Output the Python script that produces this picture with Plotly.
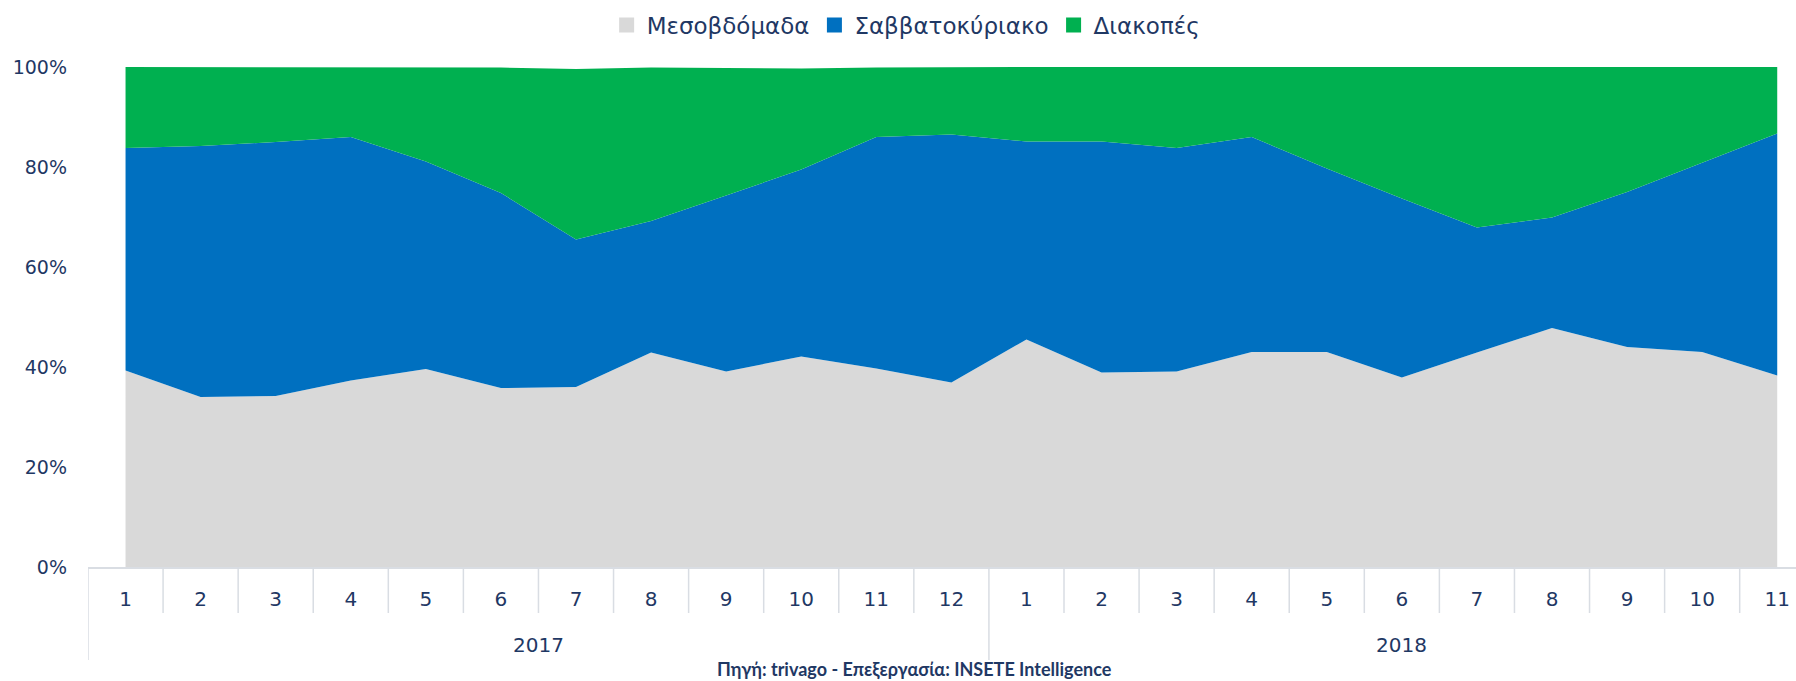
import plotly.graph_objects as go

# ---- data (percent shares) ----
months = ["1", "2", "3", "4", "5", "6", "7", "8", "9", "10", "11", "12",
          "1", "2", "3", "4", "5", "6", "7", "8", "9", "10", "11"]
years = ["2017"] * 12 + ["2018"] * 11
year_labels = ["2017", "2018"]

weekday = [39.3, 34.0, 34.2, 37.3, 39.6, 35.8, 36.0, 42.9, 39.1, 42.1, 39.7, 36.9,
           45.5, 38.9, 39.1, 43.0, 43.0, 37.9, 42.9, 47.8, 44.0, 43.0, 38.3]
weekend = [44.5, 50.2, 50.8, 48.7, 41.5, 39.0, 29.5, 26.3, 35.2, 37.4, 46.3, 49.6,
           39.6, 46.2, 44.7, 43.0, 36.7, 35.8, 25.0, 22.1, 31.0, 37.9, 48.4]
holidays = [16.2, 15.8, 15.0, 14.0, 18.9, 25.1, 34.1, 30.7, 25.5, 20.2, 13.9, 13.5,
            14.9, 14.9, 16.2, 14.0, 20.3, 26.3, 32.1, 30.1, 25.0, 19.1, 13.3]

series_names = ["Μεσοβδόμαδα", "Σαββατοκύριακο", "Διακοπές"]
series_values = [weekday, weekend, holidays]
series_colors = ["#D9D9D9", "#0070C0", "#00B050"]

y_ticks = [0, 20, 40, 60, 80, 100]
y_tick_labels = ["0%", "20%", "40%", "60%", "80%", "100%"]
source_text = "<b>Πηγή: trivago - Επεξεργασία: INSETE Intelligence</b>"

TEXT = "#1F3864"
AXIS = "#D9DDE3"
FONT = "DejaVu Sans"

idx = list(range(len(months)))

fig = go.Figure()
for name, vals, col in zip(series_names, series_values, series_colors):
    fig.add_trace(go.Scatter(
        x=idx, y=vals, name=name, mode="lines", stackgroup="one",
        line=dict(width=0, color=col), fillcolor=col, showlegend=False,
        hoverinfo="x+y+name"))
# legend entries with square symbols
for name, col in zip(series_names, series_colors):
    fig.add_trace(go.Scatter(
        x=[None], y=[None], name=name, mode="markers",
        marker=dict(symbol="square", size=15, color=col)))

W, H = 1796, 681
ML, MR, MT, MB = 88, 0, 67, 114
plot_h = H - MT - MB

fig.update_layout(
    width=W, height=H,
    margin=dict(l=ML, r=MR, t=MT, b=MB),
    paper_bgcolor="white", plot_bgcolor="white",
    font=dict(family=FONT, color=TEXT, size=19),
    showlegend=True,
    legend=dict(orientation="h", x=0.479, xanchor="center", y=1 + (MT - 25) / plot_h,
                yanchor="middle", traceorder="normal",
                font=dict(family=FONT, size=23, color=TEXT),
                itemsizing="trace", tracegroupgap=0, bgcolor="rgba(0,0,0,0)"),
    xaxis=dict(range=[-0.5, 22.25], tickmode="array", tickvals=idx, ticktext=months,
               showgrid=False, zeroline=False, showline=True, linecolor=AXIS, linewidth=1.5,
               ticks="", ticklabelstandoff=13,
               tickfont=dict(family=FONT, size=20, color=TEXT)),
    yaxis=dict(range=[0, 100], tickmode="array", tickvals=y_ticks, ticktext=y_tick_labels,
               showgrid=False, zeroline=False, showline=False, ticks="",
               ticklabelstandoff=20,
               tickfont=dict(family=FONT, size=19, color=TEXT)),
)

# category separators below the axis
short_drop = -(613 - (H - MB)) / plot_h
long_drop = -(660 - (H - MB)) / plot_h
group_starts = [i for i in idx if i == 0 or years[i] != years[i - 1]]
for k in range(len(months) + 1):
    xb = k - 0.5
    y1 = long_drop if k in group_starts else short_drop
    fig.add_shape(type="line", xref="x", yref="paper", x0=xb, x1=xb, y0=0, y1=y1,
                  line=dict(color=AXIS, width=1.5))

# year labels
for yl in year_labels:
    members = [i for i in idx if years[i] == yl]
    fig.add_annotation(x=sum(members) / len(members), y=-(645 - (H - MB)) / plot_h,
                       xref="x", yref="paper", text=yl, showarrow=False,
                       font=dict(family=FONT, size=20, color=TEXT),
                       xanchor="center", yanchor="middle")

# source note
fig.add_annotation(x=(914 - ML) / (W - ML - MR), y=-(669 - (H - MB)) / plot_h,
                   xref="paper", yref="paper", text=source_text, showarrow=False,
                   font=dict(family="Lato", size=18, color=TEXT),
                   xanchor="center", yanchor="middle")

fig.write_html("out.html", config={"displayModeBar": False},
               post_script="document.body.style.margin='0px';document.body.style.overflow='hidden';")
